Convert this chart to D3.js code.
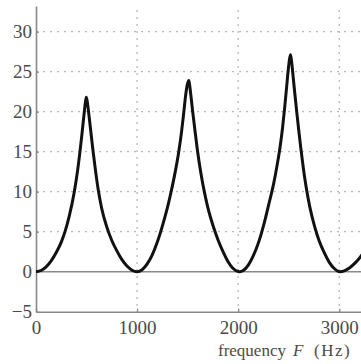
<!DOCTYPE html>
<html>
<head>
<meta charset="utf-8">
<script src="https://cdn.jsdelivr.net/npm/d3@7"></script>
<style>
    body { margin: 0; background: #fff; }
</style>
</head>
<body>
<div id="chart"></div>
<script>
// values (F in Hz, level in dB)
const freqHz = [
    0, 50, 100, 150, 200, 250, 287, 330, 379, 410, 435, 458, 478, 490, 498,
    510, 527, 545, 567, 590, 616, 650, 700, 750, 800, 850, 900, 950,
    1000, 1050, 1100, 1150, 1200, 1250, 1300, 1335, 1370, 1411, 1440, 1461, 1480, 1497, 1512,
    1522, 1535, 1550, 1575, 1600, 1630, 1665, 1700, 1750, 1800, 1850, 1900, 1950, 2000,
    2015, 2050, 2100, 2150, 2200, 2225, 2270, 2310, 2351, 2385, 2417, 2440, 2460, 2478, 2495, 2507, 2518,
    2528, 2545, 2560, 2579, 2598, 2618, 2645, 2672, 2710, 2755, 2800, 2850, 2900, 2950,
    3005, 3050, 3100, 3150, 3200, 3250
];
const levelDb = [
    0, 0.15, 0.6, 1.35, 2.4, 3.7, 5.0, 7.0, 10.0, 12.5, 15.0, 17.6, 20.0, 21.3, 21.8,
    21.0, 19.2, 17.2, 14.8, 12.5, 10.2, 7.9, 5.6, 3.9, 2.6, 1.5, 0.7, 0.18,
    0, 0.24, 0.97, 2.1, 3.7, 5.7, 8.0, 9.9, 12.0, 14.9, 17.5, 19.8, 22.0, 23.4, 23.9,
    23.1, 21.7, 20.0, 17.4, 14.9, 12.4, 10.0, 8.0, 5.8, 4.0, 2.5, 1.25, 0.4, 0.03,
    0, 0.14, 0.82, 2.0, 3.6, 4.6, 6.7, 8.8, 11.0, 13.3, 15.8, 18.1, 20.5, 22.9, 25.2, 26.5, 27.1,
    26.3, 24.2, 22.3, 20.0, 17.8, 15.6, 12.9, 10.6, 8.0, 5.7, 3.9, 2.4, 1.2, 0.4,
    0, 0.1, 0.45, 1.0, 1.7, 2.6
];
const xTicks = [0, 1000, 2000, 3000];
const yTicks = [-5, 0, 5, 10, 15, 20, 25, 30];
const xLabel = 'frequency';
const xLabelVar = 'F';
const xLabelUnit = '(Hz)';

const width = 361;
const height = 364;
const margin = { 'top': 6, 'right': 0, 'bottom': 52.3, 'left': 36 };
const graphWidth = width - margin.left - margin.right;
const graphHeight = height - margin.top - margin.bottom;
const serif = '"Liberation Serif", "DejaVu Serif", serif';
const textColor = '#4a4a4a';

const data = freqHz.map((f, i) => ({ f: f, db: levelDb[i] }));

const svg = d3.select('#chart')
    .append('svg')
    .attr('width', width)
    .attr('height', height);

svg.append('defs')
    .append('clipPath').attr('id', 'plotClip')
    .append('rect')
    .attr('width', graphWidth)
    .attr('height', graphHeight + 2)
    .attr('y', -2);

const graph = svg.append('g')
    .attr('transform', `translate(${margin.left}, ${margin.top})`);

const x = d3.scaleLinear()
    .domain([0, 3215])
    .range([0, graphWidth]);

const y = d3.scaleLinear()
    .domain([-5, 33.2])
    .range([graphHeight, 0]);

// dotted grid
graph.append('g')
    .selectAll('line')
    .data(yTicks.filter(t => t > 0))
    .enter()
    .append('line')
    .attr('x1', 0)
    .attr('x2', graphWidth)
    .attr('y1', d => y(d))
    .attr('y2', d => y(d))
    .attr('stroke', '#b8b8b8')
    .attr('stroke-width', 1.3)
    .attr('stroke-dasharray', '2,5');

graph.append('g')
    .selectAll('line')
    .data(xTicks.filter(t => t > 0))
    .enter()
    .append('line')
    .attr('x1', d => x(d))
    .attr('x2', d => x(d))
    .attr('y1', 4)
    .attr('y2', graphHeight)
    .attr('stroke', '#b8b8b8')
    .attr('stroke-width', 1.3)
    .attr('stroke-dasharray', '2,5');

// zero line
graph.append('line')
    .attr('x1', 0)
    .attr('x2', graphWidth)
    .attr('y1', y(0))
    .attr('y2', y(0))
    .attr('stroke', '#8a8a8a')
    .attr('stroke-width', 1.6);

const xAxis = d3.axisBottom(x)
    .tickValues(xTicks)
    .tickSizeInner(-3)
    .tickSizeOuter(0)
    .tickPadding(9)
    .tickFormat(d3.format('d'));

const yAxis = d3.axisLeft(y)
    .tickValues(yTicks)
    .tickSizeInner(-3)
    .tickSizeOuter(0)
    .tickPadding(4);

const gXAxis = graph.append('g')
    .attr('transform', `translate(0, ${graphHeight})`)
    .call(xAxis);

const gYAxis = graph.append('g')
    .call(yAxis);

[gXAxis, gYAxis].forEach(g => {
    g.select('.domain').attr('stroke', '#888').attr('stroke-width', 1.6);
    g.selectAll('.tick line').attr('stroke', '#888').attr('stroke-width', 1.3);
    g.selectAll('text')
        .style('font-family', serif)
        .style('font-size', '19px')
        .attr('fill', textColor);
});

// the response curve
const line = d3.line()
    .x(d => x(d.f))
    .y(d => y(d.db))
    .curve(d3.curveMonotoneX);

graph.append('path')
    .datum(data)
    .attr('clip-path', 'url(#plotClip)')
    .attr('d', line)
    .attr('fill', 'none')
    .attr('stroke', '#111')
    .attr('stroke-width', 3)
    .attr('stroke-linejoin', 'round');

// axis title
const title = svg.append('text')
    .attr('y', 356)
    .style('font-family', serif)
    .style('font-size', '17px')
    .attr('fill', textColor);
title.append('tspan').attr('x', 218).text(xLabel);
title.append('tspan').attr('x', 293).style('font-style', 'italic').text(xLabelVar);
title.append('tspan').attr('x', 314).style('letter-spacing', '1.5px').text(xLabelUnit);
</script>
</body>
</html>
